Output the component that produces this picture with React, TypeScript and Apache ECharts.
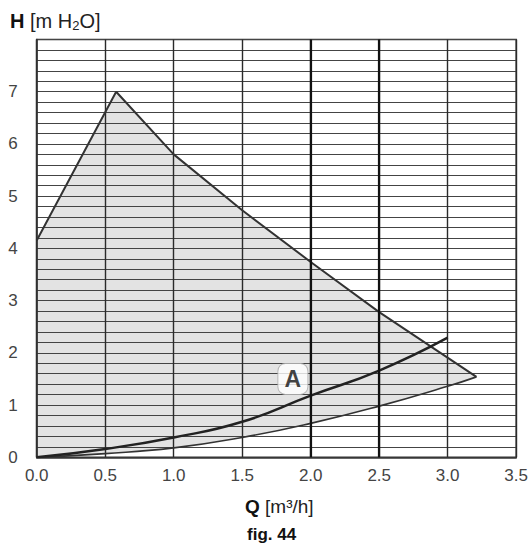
import React, { useEffect, useRef } from "react";
import * as echarts from "echarts";

// Q axis ticks
const xTicks = [0, 0.5, 1.0, 1.5, 2.0, 2.5, 3.0, 3.5];
// Max performance curve (upper boundary of area)
const upperQ = [0, 0, 0.58, 1.0, 1.5, 2.0, 2.5, 3.21];
const upperH = [0, 4.15, 7.0, 5.8, 4.73, 3.74, 2.78, 1.54];
// Min performance curve (lower boundary of area)
const lowerQ = [0, 0.5, 1.0, 1.5, 2.0, 2.5, 3.0, 3.21];
const lowerH = [0, 0.07, 0.18, 0.38, 0.65, 0.98, 1.36, 1.54];
// System curve "A"
const curveAQ = [0, 0.5, 1.0, 1.5, 2.0, 2.5, 3.0];
const curveAH = [0, 0.16, 0.38, 0.68, 1.18, 1.66, 2.29];
// Label "A" position
const labelA = { q: 1.87, h: 1.5, text: "A" };
// emphasised verticals
const boldVerticals = [2.0, 2.5];

const zip = (a: number[], b: number[]) => a.map((v, i) => [v, b[i]]);

export default function App() {
  const ref = useRef<HTMLDivElement>(null);
  useEffect(() => {
    if (!ref.current) return;
    const chart = echarts.init(ref.current, null, { renderer: "svg" });
    const upper = zip(upperQ, upperH);
    const lower = zip(lowerQ, lowerH);
    const polygon = [...upper, ...lower.slice(0, -1).reverse()];
    const fontFamily = "'Liberation Sans', Arial, sans-serif";
    chart.setOption({
      animation: false,
      backgroundColor: "#ffffff",
      grid: {
        left: 36.7,
        right: 11.7,
        top: 39.5,
        bottom: 85.7,
        show: true,
        borderColor: "#333",
        borderWidth: 1.5,
        backgroundColor: "transparent",
      },
      xAxis: {
        type: "value",
        min: 0,
        max: 3.5,
        interval: 0.5,
        axisLine: { show: true, lineStyle: { color: "#333", width: 1.5 } },
        axisTick: { show: false },
        axisLabel: {
          color: "#444",
          fontSize: 17,
          fontFamily,
          margin: 10,
          formatter: (v: number) => v.toFixed(1),
          showMaxLabel: true,
          showMinLabel: true,
        },
        splitLine: { show: true, lineStyle: { color: "#2a2a2a", width: 1.4 } },
      },
      yAxis: {
        type: "value",
        min: 0,
        max: 8,
        interval: 0.2,
        axisLine: { show: true, lineStyle: { color: "#333", width: 1.5 } },
        axisTick: { show: false },
        axisLabel: {
          color: "#444",
          fontSize: 17,
          fontFamily,
          margin: 19,
          formatter: (v: number) => {
            const r = Math.round(v);
            return Math.abs(v - r) < 1e-6 && r < 8 ? String(r) : "";
          },
        },
        splitLine: { show: true, lineStyle: { color: "#444", width: 1.2 } },
      },
      series: [
        {
          type: "custom",
          data: [[0, 0]],
          z: -1,
          renderItem: (params: any, api: any) => {
            const pts = polygon.map((p) => api.coord(p));
            return {
              type: "polygon",
              shape: { points: pts },
              style: { fill: "#e3e3e3", stroke: "none" },
            };
          },
          silent: true,
        },
        {
          type: "line",
          data: upper.slice(1),
          showSymbol: false,
          lineStyle: { color: "#333", width: 2 },
          z: 3,
          markLine: {
            silent: true,
            symbol: "none",
            label: { show: false },
            lineStyle: { color: "#111", width: 2.2, type: "solid" },
            data: boldVerticals.map((x) => ({ xAxis: x })),
          },
        },
        {
          type: "line",
          data: lower,
          showSymbol: false,
          smooth: true,
          lineStyle: { color: "#333", width: 1.6 },
          z: 3,
        },
        {
          type: "line",
          data: zip(curveAQ, curveAH),
          showSymbol: false,
          smooth: true,
          lineStyle: { color: "#222", width: 2.5 },
          z: 3,
        },
        {
          type: "scatter",
          data: [[labelA.q, labelA.h]],
          symbol: "roundRect",
          symbolSize: [30, 31],
          z: 5,
          itemStyle: { color: "#fff", borderColor: "#aaa", borderWidth: 1 },
          label: {
            show: true,
            position: "inside",
            formatter: labelA.text,
            color: "#111",
            fontSize: 23,
            fontWeight: "bold",
            fontFamily,
          },
        },
      ],
      graphic: [
        {
          type: "text",
          left: 10,
          top: 11,
          style: {
            text: "{b|H} [m H{s|2}O]",
            fontFamily,
            fontSize: 20,
            fill: "#222",
            rich: {
              b: { fontWeight: "bold", fontSize: 20, fontFamily, fill: "#111" },
              s: { fontSize: 13, fontFamily, padding: [9, 0, 0, 0] },
            },
          },
        },
        {
          type: "text",
          left: 245,
          top: 497,
          style: {
            text: "{b|Q} [m³/h]",
            fontFamily,
            fontSize: 19,
            fill: "#222",
            rich: {
              b: { fontWeight: "bold", fontSize: 19, fontFamily, fill: "#111" },
            },
          },
        },
        {
          type: "text",
          left: 247,
          top: 526,
          style: {
            text: "fig. 44",
            fontFamily,
            fontSize: 17,
            fontWeight: "bold",
            fill: "#111",
          },
        },
      ],
    });
    return () => chart.dispose();
  }, []);
  return (
    <div
      ref={ref}
      style={{ position: "fixed", left: 0, top: 0, width: 531, height: 543, background: "#fff" }}
    />
  );
}
